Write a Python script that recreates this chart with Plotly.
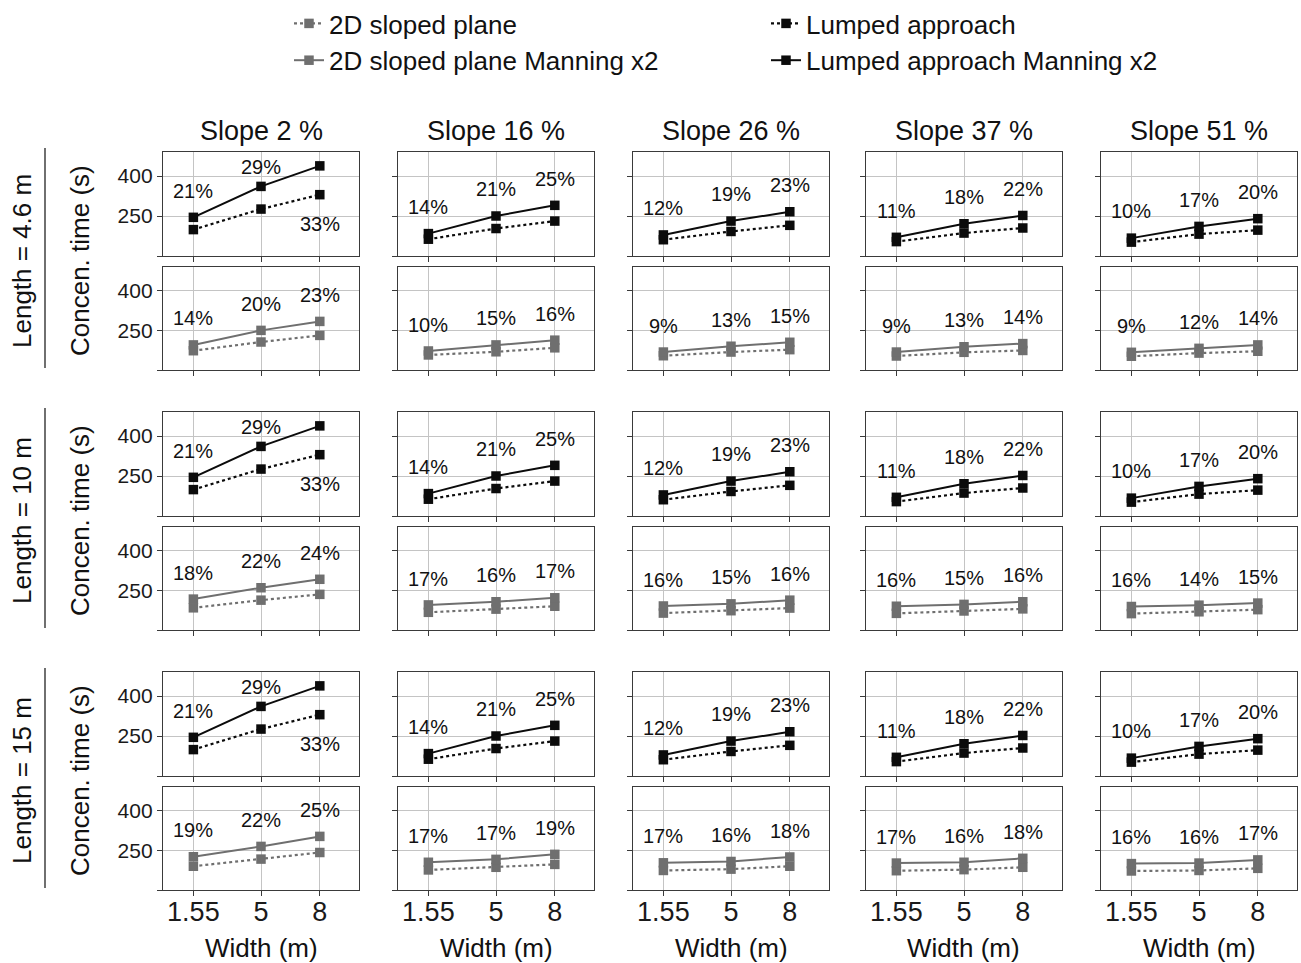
import plotly.graph_objects as go
from plotly.subplots import make_subplots

# ---------------- data ----------------
widths = [1.55, 5, 8]
slopes = ["Slope 2 %", "Slope 16 %", "Slope 26 %", "Slope 37 %", "Slope 51 %"]
lengths = ["Length = 4.6 m", "Length = 10 m", "Length = 15 m"]

# Lumped approach (same for every plane length), concentration time in s
lumped = [[199, 276, 330], [163, 203, 231], [161, 192, 215], [154, 186, 205], [152, 182, 197]]
lumped_x2 = [[245, 361, 438], [184, 250, 290], [179, 231, 266], [170, 221, 252], [167, 211, 240]]
lumped_pct = [[21, 29, 33], [14, 21, 25], [12, 19, 23], [11, 18, 22], [10, 17, 20]]

# 2D sloped plane, one block per plane length
plane_l46 = [[173, 206, 231], [157, 169, 184], [154, 168, 177], [153, 167, 174], [152, 164, 171]]
plane_l46_x2 = [[195, 250, 284], [172, 195, 213], [168, 190, 205], [168, 188, 200], [167, 182, 195]]
plane_l46_pct = [[14, 20, 23], [10, 15, 16], [9, 13, 15], [9, 13, 14], [9, 12, 14]]

plane_l10 = [[184, 213, 235], [167, 179, 190], [164, 173, 183], [163, 172, 180], [162, 169, 177]]
plane_l10_x2 = [[217, 260, 292], [195, 207, 222], [191, 199, 213], [190, 197, 207], [189, 194, 202]]
plane_l10_pct = [[18, 22, 24], [17, 16, 17], [16, 15, 16], [16, 15, 16], [16, 14, 15]]

plane_l15 = [[190, 217, 242], [176, 186, 197], [174, 179, 190], [173, 177, 186], [172, 174, 182]]
plane_l15_x2 = [[226, 265, 303], [205, 216, 235], [203, 208, 225], [202, 205, 220], [200, 202, 214]]
plane_l15_pct = [[19, 22, 25], [17, 17, 19], [17, 16, 18], [17, 16, 18], [16, 16, 17]]

plane = [plane_l46, plane_l10, plane_l15]
plane_x2 = [plane_l46_x2, plane_l10_x2, plane_l15_x2]
plane_pct = [plane_l46_pct, plane_l10_pct, plane_l15_pct]

y_ticks = [100, 250, 400]
y_ticktext = ["", "250", "400"]

# ---------------- layout geometry (pixels) ----------------
W, H = 1301, 963
col_px = [(163, 359), (398, 594), (633, 829), (866, 1062), (1101, 1297)]
row_px = [(152, 256), (267, 370), (412, 516), (527, 630), (672, 776), (787, 890)]

FONT = "Liberation Sans, Arial, Helvetica, sans-serif"
BLACK = "#0b0b0b"
GREY = "#6f6f6f"
FRAME = "#3a3a3a"

fig = make_subplots(rows=6, cols=5)


def px_x(v):
    return v / W


def px_y(v):
    return 1 - v / H


annotations = []

for li in range(3):
    for si in range(5):
        for kind in range(2):  # 0: lumped, 1: 2D sloped plane
            r = li * 2 + kind + 1
            c = si + 1
            if kind == 0:
                base, man, pct, col = lumped[si], lumped_x2[si], lumped_pct[si], BLACK
                names = ("Lumped approach", "Lumped approach Manning x2")
            else:
                base, man, pct, col = plane[li][si], plane_x2[li][si], plane_pct[li][si], GREY
                names = ("2D sloped plane", "2D sloped plane Manning x2")
            show = (li == 0 and si == 0)
            fig.add_trace(go.Scatter(
                x=widths, y=base, mode="lines+markers", name=names[0],
                line=dict(color=col, width=2.2, dash="dot"),
                marker=dict(symbol="square", size=9.5, color=col),
                showlegend=show, legendrank=1 if kind else 2,
            ), row=r, col=c)
            fig.add_trace(go.Scatter(
                x=widths, y=man, mode="lines+markers", name=names[1],
                line=dict(color=col, width=2, dash="solid"),
                marker=dict(symbol="square", size=9.5, color=col),
                showlegend=show, legendrank=3 if kind else 4,
            ), row=r, col=c)

            n = (r - 1) * 5 + c
            xa = "x" if n == 1 else f"x{n}"
            ya = "y" if n == 1 else f"y{n}"
            for k in range(3):
                yl = man[k] + 100
                if yl > 480:
                    yl = base[k] - 110
                elif yl > 440:
                    yl = 432
                annotations.append(dict(
                    x=widths[k], y=yl, xref=xa, yref=ya, text=f"{pct[k]}%",
                    xanchor="center", yanchor="middle",
                    showarrow=False, font=dict(size=20, color="#111111", family=FONT),
                ))

# axes styling and placement
for r in range(1, 7):
    for c in range(1, 6):
        n = (r - 1) * 5 + c
        xk = "xaxis" if n == 1 else f"xaxis{n}"
        yk = "yaxis" if n == 1 else f"yaxis{n}"
        x0, x1 = col_px[c - 1]
        y0, y1 = row_px[r - 1]
        fig.layout[xk].update(
            domain=[px_x(x0), px_x(x1)], range=[0, 10],
            tickvals=widths, ticktext=["1.55", "5", "8"],
            showticklabels=(r == 6), ticks="outside", ticklen=5, tickcolor=FRAME,
            showline=True, mirror=True, linecolor=FRAME, linewidth=1.3,
            showgrid=True, gridcolor="#c4c4c4", gridwidth=1, zeroline=False,
            tickfont=dict(size=27, color="#1a1a1a", family=FONT),
            ticklabelstandoff=-8, automargin=False,
        )
        fig.layout[yk].update(
            domain=[px_y(y1), px_y(y0)], range=[100, 490],
            tickvals=y_ticks, ticktext=y_ticktext,
            showticklabels=(c == 1), ticks="outside", ticklen=5, tickcolor=FRAME,
            showline=True, mirror=True, linecolor=FRAME, linewidth=1.3,
            showgrid=True, gridcolor="#c4c4c4", gridwidth=1, zeroline=False,
            tickfont=dict(size=21, color="#1a1a1a", family=FONT),
            automargin=False,
        )

# column titles and x-axis titles
for c in range(5):
    xc = px_x((col_px[c][0] + col_px[c][1]) / 2)
    annotations.append(dict(x=xc, y=px_y(131), xref="paper", yref="paper", text=slopes[c],
                            xanchor="center", yanchor="middle",
                            showarrow=False, font=dict(size=27, color="#111111", family=FONT)))
    annotations.append(dict(x=xc, y=px_y(948), xref="paper", yref="paper", text="Width (m)",
                            xanchor="center", yanchor="middle",
                            showarrow=False, font=dict(size=26, color="#111111", family=FONT)))

# row labels with a separator line
shapes = []
for li in range(3):
    top = row_px[li * 2][0]
    bot = row_px[li * 2 + 1][1]
    yc = px_y((top + bot) / 2)
    annotations.append(dict(x=px_x(22), y=yc, xref="paper", yref="paper", text=lengths[li],
                            textangle=-90, showarrow=False, xanchor="center", yanchor="middle",
                            font=dict(size=26, color="#111111", family=FONT)))
    annotations.append(dict(x=px_x(80), y=yc, xref="paper", yref="paper", text="Concen. time (s)",
                            textangle=-90, showarrow=False, xanchor="center", yanchor="middle",
                            font=dict(size=26, color="#111111", family=FONT)))
    shapes.append(dict(type="line", xref="paper", yref="paper",
                       x0=px_x(45), x1=px_x(45), y0=px_y(top - 4), y1=px_y(bot - 2),
                       line=dict(color="#222222", width=1.3)))

fig.update_layout(
    width=W, height=H,
    margin=dict(l=0, r=0, t=0, b=0, autoexpand=False),
    paper_bgcolor="white", plot_bgcolor="white",
    annotations=annotations, shapes=shapes,
    font=dict(family=FONT),
    legend=dict(
        orientation="h", x=px_x(289), y=1.0, xanchor="left", yanchor="top",
        entrywidth=432, entrywidthmode="pixels", traceorder="normal",
        font=dict(size=26, color="#111111", family=FONT),
        bgcolor="rgba(0,0,0,0)", tracegroupgap=0,
    ),
)

fig.write_html("out.html")
